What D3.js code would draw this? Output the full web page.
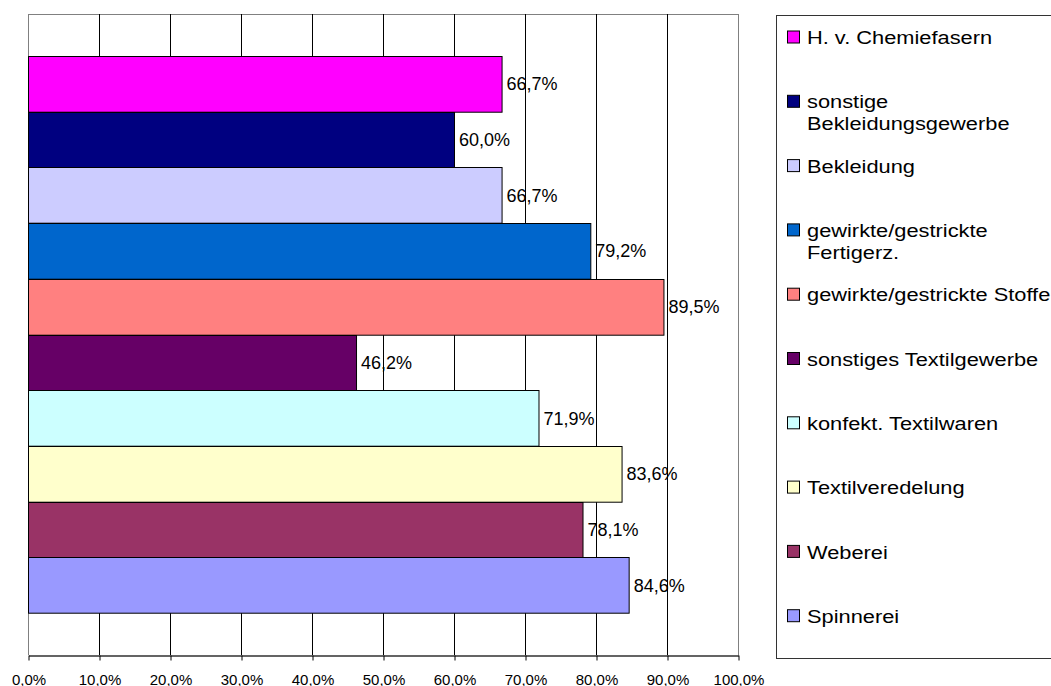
<!DOCTYPE html>
<html>
<head>
<meta charset="utf-8">
<script src="https://cdn.jsdelivr.net/npm/d3@7"></script>
<style>
  html, body { margin: 0; padding: 0; background: #fff; }
  svg { display: block; font-family: "Liberation Sans", Arial, sans-serif; }
</style>
</head>
<body>
<svg id="chart" width="1051" height="686"></svg>
<script>
// Branch categories, top bar first
const categories = [
  "H. v. Chemiefasern",
  "sonstige Bekleidungsgewerbe",
  "Bekleidung",
  "gewirkte/gestrickte Fertigerz.",
  "gewirkte/gestrickte Stoffe",
  "sonstiges Textilgewerbe",
  "konfekt. Textilwaren",
  "Textilveredelung",
  "Weberei",
  "Spinnerei"
];

// Share per branch (fraction of 1)
const values = [0.667, 0.600, 0.667, 0.792, 0.895, 0.462, 0.719, 0.836, 0.781, 0.846];

const colors = [
  "#FF00FF", "#000080", "#CCCCFF", "#0066CC", "#FF8080",
  "#660066", "#CCFFFF", "#FFFFCC", "#993366", "#9999FF"
];

const xTicks = [0, 0.1, 0.2, 0.3, 0.4, 0.5, 0.6, 0.7, 0.8, 0.9, 1.0];

// Legend entries that break onto two lines
const legendWrap = {
  "sonstige Bekleidungsgewerbe": ["sonstige", "Bekleidungsgewerbe"],
  "gewirkte/gestrickte Fertigerz.": ["gewirkte/gestrickte", "Fertigerz."]
};

const de = d3.formatLocale({ decimal: ",", thousands: ".", grouping: [3], currency: ["", " €"] });
const pct = de.format(".1%");

const svg = d3.select("#chart");

const plot = { left: 28, right: 738, top: 14, bottom: 655 };

const x = d3.scaleLinear().domain([0, 1]).range([plot.left, plot.right]);
const y = d3.scaleBand().domain(categories)
  .range([plot.top, plot.bottom]).paddingInner(0).paddingOuter(0.754);

// Plot frame: top, left and right edges in grey
svg.append("line").attr("x1", plot.left).attr("x2", plot.right)
  .attr("y1", plot.top + 0.5).attr("y2", plot.top + 0.5).attr("stroke", "#808080");
svg.append("line").attr("x1", plot.left + 0.5).attr("x2", plot.left + 0.5)
  .attr("y1", plot.top).attr("y2", plot.bottom).attr("stroke", "#808080");
svg.append("line").attr("x1", plot.right + 0.5).attr("x2", plot.right + 0.5)
  .attr("y1", plot.top).attr("y2", plot.bottom).attr("stroke", "#808080");

// Vertical gridlines
svg.append("g").selectAll("line")
  .data(xTicks.filter(t => t > 0 && t < 1))
  .join("line")
  .attr("x1", d => Math.round(x(d)) + 0.5).attr("x2", d => Math.round(x(d)) + 0.5)
  .attr("y1", plot.top).attr("y2", plot.bottom)
  .attr("stroke", "#000").attr("stroke-width", 1);

// Bars
svg.append("g").selectAll("rect")
  .data(categories)
  .join("rect")
  .attr("x", x(0) + 0.5)
  .attr("y", d => Math.round(y(d)) + 0.5)
  .attr("width", (d, i) => x(values[i]) - x(0))
  .attr("height", y.bandwidth())
  .attr("fill", (d, i) => colors[i])
  .attr("stroke", "#000").attr("stroke-width", 1);

// Value labels
svg.append("g").selectAll("text")
  .data(categories)
  .join("text")
  .attr("x", (d, i) => x(values[i]) + 5)
  .attr("y", d => y(d) + y.bandwidth() / 2)
  .attr("dy", "0.36em")
  .attr("font-size", 18)
  .attr("fill", "#000")
  .text((d, i) => pct(values[i]));

// Bottom axis
const axis = d3.axisBottom(x).tickValues(xTicks).tickFormat(pct).tickSize(5).tickSizeOuter(0);
const gx = svg.append("g").attr("transform", `translate(0.5,${plot.bottom + 0.5})`).call(axis);
gx.select(".domain").attr("stroke", "#303030").attr("stroke-width", 1.5);
gx.selectAll(".tick line").attr("stroke", "#000");
gx.selectAll(".tick text")
  .attr("y", 29).attr("dy", 0)
  .attr("font-size", 15).attr("font-family", "Liberation Sans, Arial, sans-serif")
  .attr("fill", "#000");

// Legend
const legend = { left: 776, top: 15, bottom: 658 };
svg.append("rect")
  .attr("x", legend.left + 0.5).attr("y", legend.top + 0.5)
  .attr("width", 1051 - legend.left + 10).attr("height", legend.bottom - legend.top)
  .attr("fill", "#fff").attr("stroke", "#333").attr("stroke-width", 1);

const ly = d3.scaleBand().domain(categories).range([legend.top, legend.bottom]);

const entries = svg.append("g").selectAll("g")
  .data(categories)
  .join("g")
  .attr("transform", d => `translate(0,${ly(d) + 22.5})`);

entries.append("rect")
  .attr("x", 787.5).attr("y", -6.5)
  .attr("width", 12).attr("height", 12)
  .attr("fill", (d, i) => colors[i])
  .attr("stroke", "#000").attr("stroke-width", 1);

entries.append("text")
  .attr("transform", "translate(807,0) scale(1.18,1)")
  .attr("font-size", 18.5)
  .attr("fill", "#000")
  .selectAll("tspan")
  .data(d => legendWrap[d] || [d])
  .join("tspan")
  .attr("x", 0)
  .attr("y", (d, i) => i * 21.7)
  .attr("dy", "0.36em")
  .text(d => d);
</script>
</body>
</html>
